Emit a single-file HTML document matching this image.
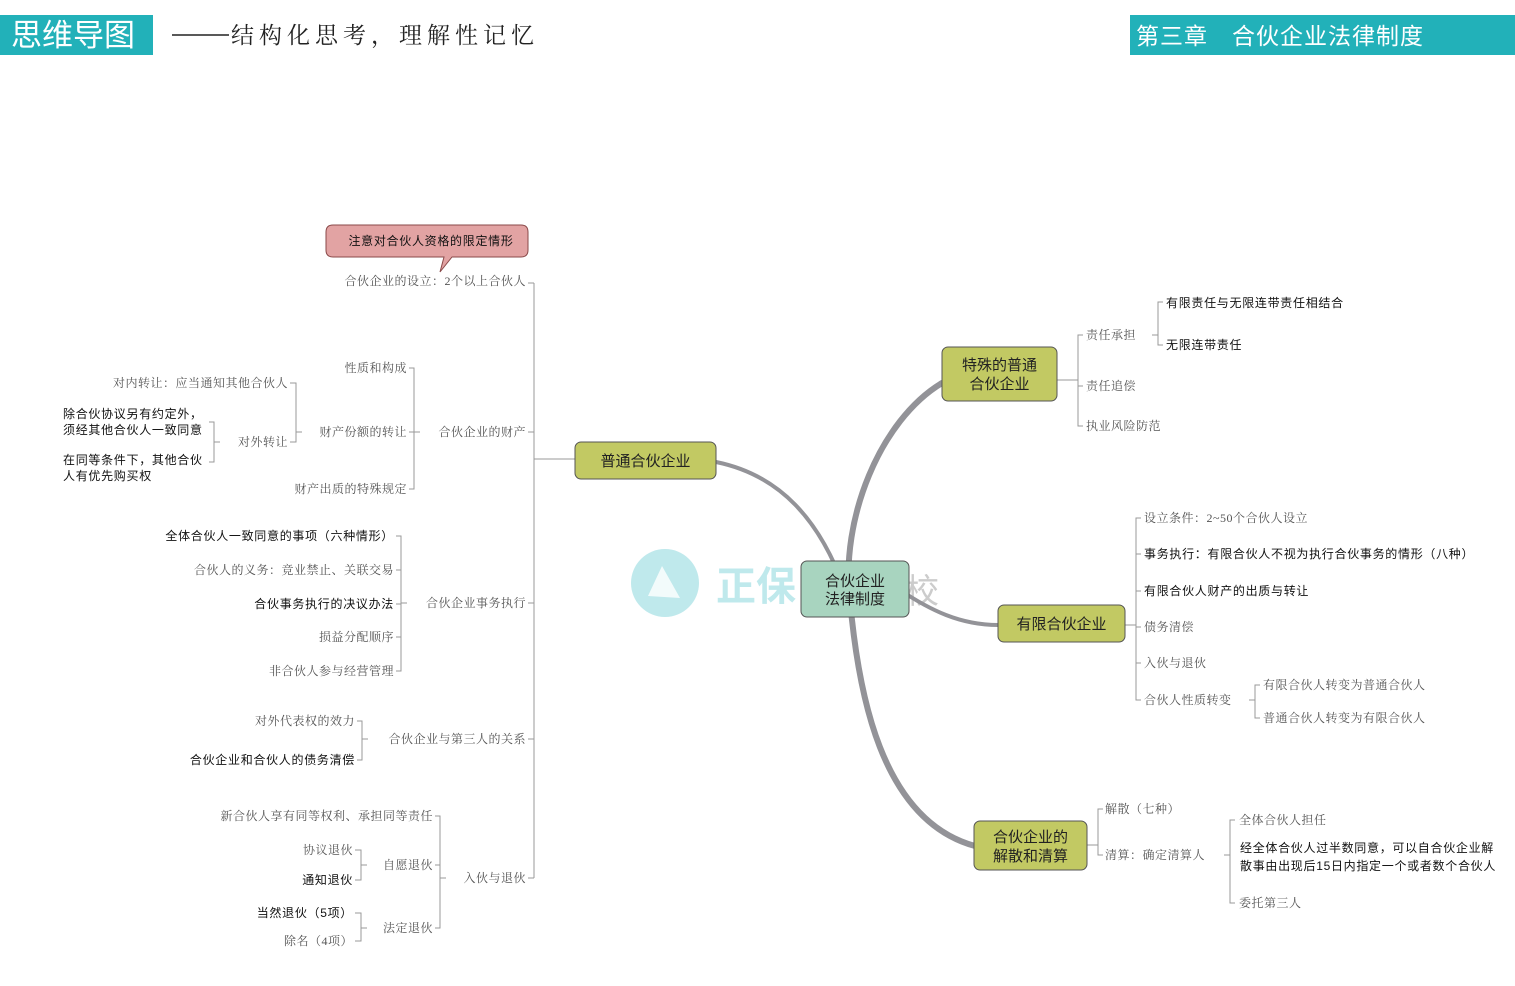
<!DOCTYPE html>
<html><head><meta charset="utf-8"><style>
html,body{margin:0;padding:0;background:#fff;}
svg{display:block;}
.g{font-family:"Liberation Serif","Noto Serif CJK SC",serif;font-size:12px;fill:#555;letter-spacing:0.5px;}
.d{font-family:"Liberation Sans","Noto Sans CJK SC",sans-serif;font-size:12px;fill:#111;letter-spacing:0.7px;}
.n{font-family:"Liberation Sans","Noto Sans CJK SC",sans-serif;font-size:15px;fill:#222;}
</style></head><body>
<svg width="1515" height="986" viewBox="0 0 1515 986" xmlns="http://www.w3.org/2000/svg">
<rect x="0" y="15" width="153" height="40" fill="#22b1b9"/>
<text x="11" y="46" font-family="Liberation Sans,Noto Sans CJK SC,sans-serif" font-size="31" fill="#fff">思维导图</text>
<line x1="172" y1="35" x2="229" y2="35" stroke="#222" stroke-width="1.5"/>
<text x="231" y="43" font-family="Liberation Serif,Noto Serif CJK SC,serif" font-size="23" fill="#222" letter-spacing="5">结构化思考，理解性记忆</text>
<rect x="1130" y="15" width="385" height="40" fill="#22b1b9"/>
<text x="1136" y="44" font-family="Liberation Sans,Noto Sans CJK SC,sans-serif" font-size="23" fill="#fff" letter-spacing="1" xml:space="preserve">第三章　合伙企业法律制度</text>

<circle cx="665" cy="583" r="34" fill="#bfe9ec"/>
<path d="M648 596 L662 566 L680 598 Z" fill="#fff" opacity="0.8"/>
<text x="716" y="600" font-family="Liberation Sans,Noto Sans CJK SC,sans-serif" font-size="40" font-weight="bold" fill="#bfe9ec">正保</text>
<text x="905" y="603" font-family="Liberation Sans,Noto Sans CJK SC,sans-serif" font-size="34" fill="#ccc">校</text>

<g fill="none" stroke="#939398" stroke-linecap="round">
<path d="M716 462 C780 475 820 520 845 590" stroke-width="4"/>
<path d="M942 383 C880 420 840 520 850 600 C858 690 880 820 975 846" stroke-width="6"/>
<path d="M900 590 C930 610 960 625 998 625" stroke-width="4"/>
</g>

<g stroke="#999" stroke-width="1" fill="none">
<line x1="534" y1="283" x2="534" y2="878"/>
<line x1="534" y1="459" x2="575" y2="459"/>
<line x1="528" y1="283" x2="534" y2="283"/>
<line x1="528" y1="432" x2="534" y2="432"/>
<line x1="528" y1="603" x2="534" y2="603"/>
<line x1="528" y1="739" x2="534" y2="739"/>
<line x1="528" y1="878" x2="534" y2="878"/>
<path d="M409 368 H414 V489 H409"/><line x1="414" y1="432" x2="420" y2="432"/><line x1="409" y1="432" x2="414" y2="432"/>
<path d="M290 383 H296 V442 H290"/><line x1="296" y1="432" x2="302" y2="432"/>
<path d="M209 422 H214 V462 H209"/><line x1="214" y1="442" x2="220" y2="442"/>
<path d="M396 536 H401 V671 H396"/><line x1="401" y1="603" x2="407" y2="603"/>
<line x1="396" y1="570" x2="401" y2="570"/><line x1="396" y1="604" x2="401" y2="604"/><line x1="396" y1="637" x2="401" y2="637"/>
<path d="M357 721 H362 V760 H357"/><line x1="362" y1="739" x2="368" y2="739"/>
<path d="M435 816 H440 V928 H435"/><line x1="440" y1="878" x2="446" y2="878"/><line x1="435" y1="865" x2="440" y2="865"/>
<path d="M355 850 H361 V880 H355"/><line x1="361" y1="865" x2="367" y2="865"/>
<path d="M355 913 H361 V941 H355"/><line x1="361" y1="928" x2="367" y2="928"/>
<line x1="1057" y1="380" x2="1078" y2="380"/>
<path d="M1083 335 H1078 V426 H1083"/><line x1="1078" y1="386" x2="1083" y2="386"/>
<path d="M1163 302 H1158 V345 H1163"/><line x1="1152" y1="335" x2="1158" y2="335"/>
<line x1="1125" y1="625" x2="1136" y2="625"/>
<path d="M1141 518 H1136 V700 H1141"/>
<line x1="1136" y1="554" x2="1141" y2="554"/><line x1="1136" y1="591" x2="1141" y2="591"/><line x1="1136" y1="627" x2="1141" y2="627"/><line x1="1136" y1="663" x2="1141" y2="663"/>
<path d="M1260 685 H1255 V718 H1260"/><line x1="1249" y1="700" x2="1255" y2="700"/>
<line x1="1087" y1="845" x2="1098" y2="845"/>
<path d="M1103 809 H1098 V855 H1103"/>
<path d="M1235 820 H1230 V903 H1235"/><line x1="1224" y1="855" x2="1230" y2="855"/>
</g>

<path d="M333 225 H521 Q528 225 528 232 V250 Q528 257 521 257 H452 L440 272 L444 257 H333 Q326 257 326 250 V232 Q326 225 333 225 Z" fill="#e2a3a3" stroke="#8a4a4a" stroke-width="1"/>
<text x="431" y="245" text-anchor="middle" class="d" font-size="12">注意对合伙人资格的限定情形</text>

<g class="g" text-anchor="end">
<text x="526" y="285">合伙企业的设立：2个以上合伙人</text>
<text x="526" y="436">合伙企业的财产</text>
<text x="407" y="372">性质和构成</text>
<text x="407" y="436">财产份额的转让</text>
<text x="407" y="493">财产出质的特殊规定</text>
<text x="288" y="387">对内转让：应当通知其他合伙人</text>
<text x="288" y="446">对外转让</text>
<text x="526" y="607">合伙企业事务执行</text>
<text x="394" y="574">合伙人的义务：竞业禁止、关联交易</text>
<text x="394" y="641">损益分配顺序</text>
<text x="394" y="675">非合伙人参与经营管理</text>
<text x="526" y="743">合伙企业与第三人的关系</text>
<text x="355" y="725">对外代表权的效力</text>
<text x="526" y="882">入伙与退伙</text>
<text x="433" y="820">新合伙人享有同等权利、承担同等责任</text>
<text x="433" y="869">自愿退伙</text>
<text x="433" y="932">法定退伙</text>
<text x="353" y="854">协议退伙</text>
<text x="353" y="945">除名（4项）</text>
</g>
<g class="d" text-anchor="end">
<text x="394" y="540">全体合伙人一致同意的事项（六种情形）</text>
<text x="394" y="608">合伙事务执行的决议办法</text>
<text x="355" y="764">合伙企业和合伙人的债务清偿</text>
<text x="353" y="884">通知退伙</text>
<text x="353" y="917">当然退伙（5项）</text>
</g>
<g class="d">
<text x="63" y="418">除合伙协议另有约定外，</text>
<text x="63" y="434">须经其他合伙人一致同意</text>
<text x="63" y="464">在同等条件下，其他合伙</text>
<text x="63" y="480">人有优先购买权</text>
</g>

<g class="g">
<text x="1086" y="339">责任承担</text>
<text x="1086" y="390">责任追偿</text>
<text x="1086" y="430">执业风险防范</text>
<text x="1144" y="522">设立条件：2~50个合伙人设立</text>
<text x="1144" y="631">债务清偿</text>
<text x="1144" y="667">入伙与退伙</text>
<text x="1144" y="704">合伙人性质转变</text>
<text x="1263" y="689">有限合伙人转变为普通合伙人</text>
<text x="1263" y="722">普通合伙人转变为有限合伙人</text>
<text x="1105" y="813">解散（七种）</text>
<text x="1105" y="859">清算：确定清算人</text>
<text x="1239" y="824">全体合伙人担任</text>
<text x="1239" y="907">委托第三人</text>
</g>
<g class="d">
<text x="1166" y="307">有限责任与无限连带责任相结合</text>
<text x="1166" y="349">无限连带责任</text>
<text x="1144" y="558">事务执行：有限合伙人不视为执行合伙事务的情形（八种）</text>
<text x="1144" y="595">有限合伙人财产的出质与转让</text>
<text x="1240" y="852">经全体合伙人过半数同意，可以自合伙企业解</text>
<text x="1240" y="870">散事由出现后15日内指定一个或者数个合伙人</text>
</g>

<rect x="575" y="442" width="141" height="37" rx="6" fill="#c2c963" stroke="#555" stroke-width="1"/>
<text x="645.5" y="466" text-anchor="middle" class="n">普通合伙企业</text>
<rect x="801" y="561" width="108" height="56" rx="6" fill="#a8d4bf" stroke="#555" stroke-width="1"/>
<text x="855" y="586" text-anchor="middle" class="n" font-size="16">合伙企业</text>
<text x="855" y="604" text-anchor="middle" class="n" font-size="16">法律制度</text>
<rect x="942" y="347" width="115" height="54" rx="6" fill="#c2c963" stroke="#555" stroke-width="1"/>
<text x="999.5" y="370" text-anchor="middle" class="n">特殊的普通</text>
<text x="999.5" y="389" text-anchor="middle" class="n">合伙企业</text>
<rect x="998" y="605" width="127" height="37" rx="6" fill="#c2c963" stroke="#555" stroke-width="1"/>
<text x="1061.5" y="629" text-anchor="middle" class="n">有限合伙企业</text>
<rect x="974" y="821" width="113" height="49" rx="6" fill="#c2c963" stroke="#555" stroke-width="1"/>
<text x="1030.5" y="842" text-anchor="middle" class="n">合伙企业的</text>
<text x="1030.5" y="861" text-anchor="middle" class="n">解散和清算</text>
</svg>
</body></html>
